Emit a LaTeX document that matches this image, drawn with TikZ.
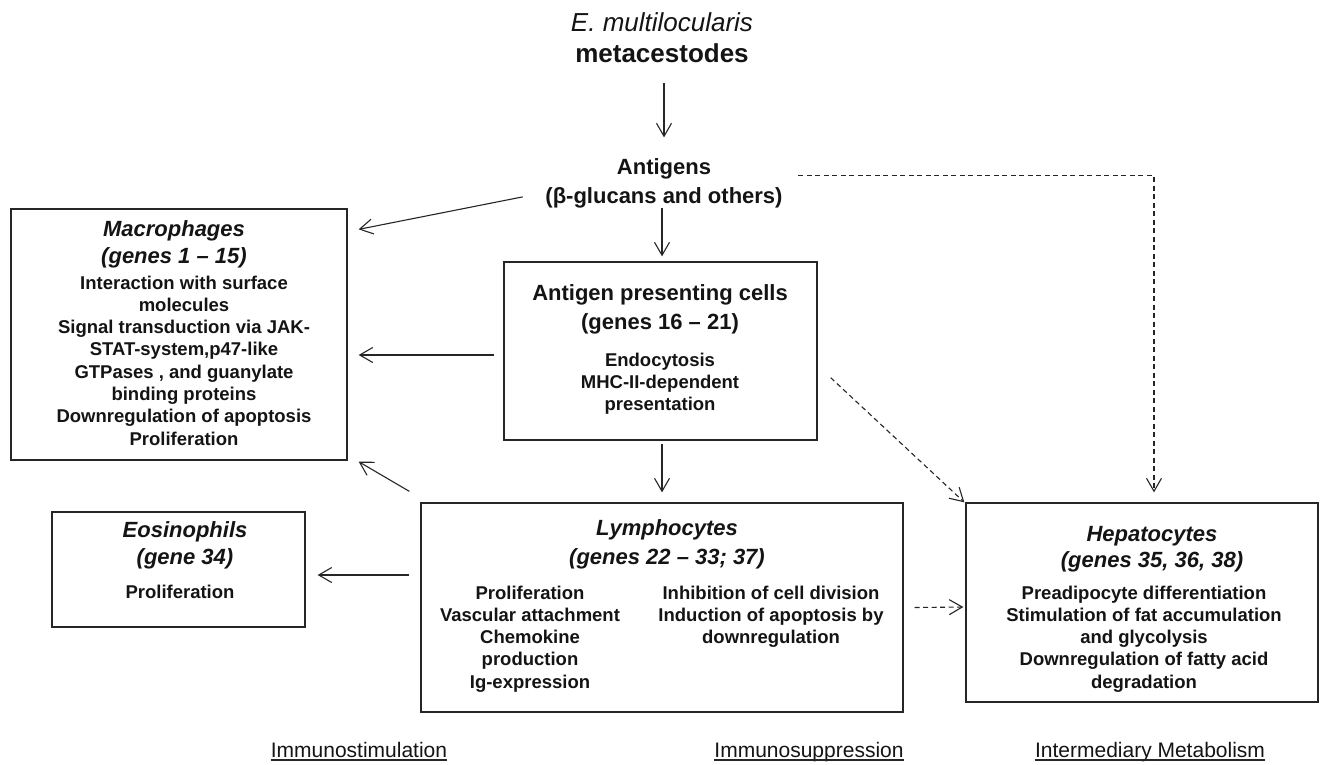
\documentclass[tikz,border=0pt]{standalone}
\usepackage{fontspec}
\setmainfont{Liberation Sans}
\usetikzlibrary{arrows.meta,calc}
\begin{document}
\begin{tikzpicture}[x=1pt,y=-1pt,
  every node/.style={inner sep=0pt, text=black!92},
  cellbox/.style={draw=black!85, line width=1.3pt, rectangle},
  topi/.style={anchor=base, font=\fontsize{26}{30}\selectfont\itshape},
  topb/.style={anchor=base, font=\fontsize{26}{30}\selectfont\bfseries},
  tb/.style={anchor=base, font=\fontsize{22}{26}\selectfont\bfseries},
  tbi/.style={anchor=base, font=\fontsize{22}{26}\selectfont\bfseries\itshape},
  bd/.style={anchor=base, font=\fontsize{18.5}{22}\selectfont\bfseries},
  lab/.style={anchor=base, font=\fontsize{21}{25}\selectfont},
  arr/.style={draw=black!85, line width=1.1pt, -{Straight Barb[length=13pt,width=15pt,line width=1.1pt]}},
  darr/.style={arr, dash pattern=on 5pt off 3.5pt}]
\fill[white] (0,0) rectangle (1321,764);
\useasboundingbox (0,0) rectangle (1321,764);

% boxes
\node[cellbox, minimum width=336pt, minimum height=251pt] (mac) at (179,334.5) {};
\node[cellbox, minimum width=313pt, minimum height=178pt] (apc) at (660.5,351) {};
\node[cellbox, minimum width=253pt, minimum height=115pt] (eos) at (178.5,569.5) {};
\node[cellbox, minimum width=482pt, minimum height=209pt] (lym) at (662,607.5) {};
\node[cellbox, minimum width=352pt, minimum height=199pt] (hep) at (1142,602.5) {};

% top
\node[topi] (emul) at (662,31) {E. multilocularis};
\node[topb] (meta) at (662,62) {metacestodes};
\node[tb] (antig) at (664,174.5) {Antigens};
\node[tb] (glu) at (664,203.5) {(β-glucans and others)};

% macrophages
\node[tbi] (mact1) at (174,236.5) {Macrophages};
\node[tbi] (mact2) at (174,263.5) {(genes 1 – 15)};
\node[bd] (macb1) at (184,289) {Interaction with surface};
\node[bd] (macb2) at (184,311.3) {molecules};
\node[bd] (macb3) at (184,333.6) {Signal transduction via JAK-};
\node[bd] (macb4) at (184,355.9) {STAT-system,p47-like};
\node[bd] (macb5) at (184,378.2) {GTPases , and guanylate};
\node[bd] (macb6) at (184,400.5) {binding proteins};
\node[bd] (macb7) at (184,422.8) {Downregulation of apoptosis};
\node[bd] (macb8) at (184,445.1) {Proliferation};

% APC
\node[tb] (apct1) at (660,300.5) {Antigen presenting cells};
\node[tb] (apct2) at (660,329.5) {(genes 16 – 21)};
\node[bd] (apcb1) at (660,366) {Endocytosis};
\node[bd] (apcb2) at (660,388.3) {MHC-II-dependent};
\node[bd] (apcb3) at (660,410.6) {presentation};

% eosinophils
\node[tbi] (eost1) at (185,537.5) {Eosinophils};
\node[tbi] (eost2) at (185,564.5) {(gene 34)};
\node[bd] (eosb1) at (180,598) {Proliferation};

% lymphocytes
\node[tbi] (lymt1) at (667,535.5) {Lymphocytes};
\node[tbi] (lymt2) at (667,564.5) {(genes 22 – 33; 37)};
\node[bd] (lyml1) at (530,599) {Proliferation};
\node[bd] (lyml2) at (530,621.3) {Vascular attachment};
\node[bd] (lyml3) at (530,643.6) {Chemokine};
\node[bd] (lyml4) at (530,665.9) {production};
\node[bd] (lyml5) at (530,688.2) {Ig-expression};
\node[bd] (lymr1) at (771,599) {Inhibition of cell division};
\node[bd] (lymr2) at (771,621.3) {Induction of apoptosis by};
\node[bd] (lymr3) at (771,643.6) {downregulation};

% hepatocytes
\node[tbi] (hept1) at (1152,541.5) {Hepatocytes};
\node[tbi] (hept2) at (1152,567.5) {(genes 35, 36, 38)};
\node[bd] (hepb1) at (1144,599) {Preadipocyte differentiation};
\node[bd] (hepb2) at (1144,621.3) {Stimulation of fat accumulation};
\node[bd] (hepb3) at (1144,643.6) {and glycolysis};
\node[bd] (hepb4) at (1144,665.9) {Downregulation of fatty acid};
\node[bd] (hepb5) at (1144,688.2) {degradation};

% bottom labels
\node[lab] (lab1) at (359,757) {Immunostimulation};
\node[lab] (lab2) at (809,757) {Immunosuppression};
\node[lab] (lab3) at (1150,757) {Intermediary Metabolism};
\foreach \l in {lab1,lab2,lab3}
  \draw[line width=1.1pt, black!85] ($(\l.base west)+(0,3)$) -- ($(\l.base east)+(0,3)$);

% connectors
\draw[arr] ($(meta.south)+(2,21)$) -- ($(antig.north)+(0,-21)$);
\draw[arr] ($(glu.south)+(-2,0)$) -- ($(apc.north)+(1.5,-5)$);
\draw[arr] ($(glu.west)+(-22.5,-1)$) -- ($(mac.north east)+(11,21)$);
\draw[darr] ($(antig.east)+(87,7)$) -| ($(hep.north)+(12,-10)$);
\draw[arr] ($(apc.west)+(-9,4)$) -- ($(mac.east)+(11,20.5)$);
\draw[arr] ($(apc.south)+(1.5,3)$) -- ($(lym.north)+(0,-10)$);
\draw[darr] ($(apc.south east)+(13,-63)$) -- ($(hep.north west)+(-1,0)$);
\draw[arr] ($(lym.north west)+(-11,-11)$) -- ($(mac.south east)+(11,1)$);
\draw[arr] ($(lym.west)+(-11,-32.5)$) -- ($(eos.east)+(12,5.5)$);
\draw[darr] ($(lym.east)+(11,0)$) -- ($(hep.west)+(-2,4.5)$);
\end{tikzpicture}
\end{document}
